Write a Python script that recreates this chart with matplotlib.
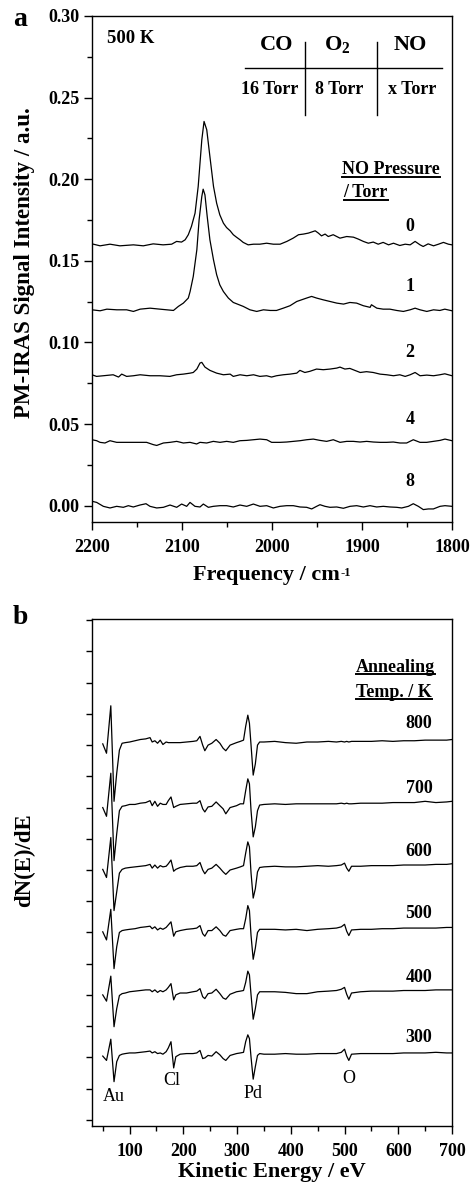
import numpy as np
import matplotlib
matplotlib.use("Agg")
import matplotlib.pyplot as plt
from matplotlib.lines import Line2D
from matplotlib.ticker import MultipleLocator, FormatStrFormatter

plt.rcParams['font.family'] = ['Liberation Serif', 'DejaVu Serif']
plt.rcParams['font.weight'] = 'bold'
plt.rcParams['mathtext.fontset'] = 'custom'
plt.rcParams['mathtext.rm'] = 'Liberation Serif:bold'
plt.rcParams['mathtext.bf'] = 'Liberation Serif:bold'

# ---- panel a: PM-IRAS spectra at 500 K, one per NO pressure ----
f_0torr = [2200, 2191, 2180, 2169, 2154, 2143, 2132, 2121, 2111.5, 2106,
           2100.5, 2096.5, 2093, 2089.5, 2085.5, 2082, 2078, 2075.5, 2072.5, 2069,
           2065, 2061.5, 2058, 2054, 2050.5, 2046.5, 2043, 2039.5, 2035.5, 2032,
           2026.5, 2020.5, 2013.5, 2006, 1998.5, 1991, 1983.5, 1976.5, 1970.5, 1965,
           1959.5, 1952, 1948.5, 1945, 1941, 1937.5, 1932, 1924.5, 1917, 1909.5,
           1904, 1898.5, 1893, 1887.5, 1882, 1876.5, 1870.5, 1865, 1858, 1852,
           1846.5, 1841, 1835.5, 1832, 1826.5, 1820.5, 1815, 1809.5, 1804, 1800]
i_0torr = [0.1604, 0.1592, 0.1602, 0.1592, 0.1598, 0.1592, 0.1604, 0.1598, 0.1602, 0.1619,
           0.1615, 0.1629, 0.1660, 0.1711, 0.1792, 0.1956, 0.2241, 0.2354, 0.2303, 0.2139,
           0.1956, 0.1853, 0.1782, 0.1731, 0.1704, 0.1684, 0.1660, 0.1645, 0.1629, 0.1613,
           0.1598, 0.1602, 0.1602, 0.1608, 0.1602, 0.1602, 0.1619, 0.1639, 0.1660, 0.1664,
           0.1670, 0.1684, 0.1670, 0.1653, 0.1664, 0.1649, 0.1660, 0.1639, 0.1649, 0.1645,
           0.1633, 0.1619, 0.1608, 0.1615, 0.1602, 0.1613, 0.1598, 0.1608, 0.1594, 0.1602,
           0.1598, 0.1619, 0.1598, 0.1588, 0.1604, 0.1592, 0.1602, 0.1613, 0.1602, 0.1598]

f_1torr = [2200, 2191, 2183.5, 2172.5, 2161.5, 2154, 2146.5, 2135.5, 2124.5, 2117,
           2109.5, 2104, 2098.5, 2093, 2091, 2087.5, 2083.5, 2081, 2078, 2076.5,
           2074.5, 2072, 2069, 2065, 2061.5, 2058, 2054, 2048.5, 2043, 2032,
           2024.5, 2017, 2009.5, 2002, 1995, 1987.5, 1980, 1972.5, 1961.5, 1956,
           1950.5, 1943, 1935.5, 1928, 1920.5, 1913.5, 1906, 1898.5, 1891, 1889.5,
           1883.5, 1876.5, 1869, 1861.5, 1854, 1846.5, 1841, 1835.5, 1828, 1820.5,
           1813.5, 1808, 1800]
i_1torr = [0.1200, 0.1194, 0.1204, 0.1200, 0.1200, 0.1190, 0.1204, 0.1210, 0.1204, 0.1200,
           0.1196, 0.1221, 0.1241, 0.1272, 0.1312, 0.1404, 0.1568, 0.1751, 0.1894, 0.1939,
           0.1904, 0.1772, 0.1629, 0.1506, 0.1415, 0.1353, 0.1312, 0.1272, 0.1245, 0.1221,
           0.1200, 0.1190, 0.1200, 0.1196, 0.1196, 0.1210, 0.1225, 0.1251, 0.1272, 0.1282,
           0.1272, 0.1261, 0.1251, 0.1241, 0.1235, 0.1245, 0.1241, 0.1225, 0.1215, 0.1231,
           0.1210, 0.1204, 0.1204, 0.1196, 0.1190, 0.1200, 0.1210, 0.1200, 0.1190, 0.1200,
           0.1196, 0.1204, 0.1194]

f_2torr = [2200, 2195, 2187.5, 2176.5, 2170.5, 2167, 2161.5, 2154, 2146.5, 2135.5,
           2124.5, 2113.5, 2106, 2098.5, 2091, 2087.5, 2083.5, 2080, 2078, 2074.5,
           2069, 2061.5, 2054, 2046.5, 2043, 2035.5, 2028, 2020.5, 2013.5, 2006,
           2000.5, 1995, 1987.5, 1980, 1972.5, 1969, 1963.5, 1958, 1950.5, 1943,
           1935.5, 1928, 1924.5, 1919, 1913.5, 1908, 1902, 1895, 1887.5, 1880,
           1872.5, 1865, 1858, 1852, 1846.5, 1841, 1835.5, 1828, 1820.5, 1813.5,
           1808, 1800]
i_2torr = [0.0802, 0.0792, 0.0796, 0.0802, 0.0788, 0.0806, 0.0792, 0.0796, 0.0802, 0.0796,
           0.0796, 0.0792, 0.0802, 0.0806, 0.0812, 0.0816, 0.0837, 0.0874, 0.0878, 0.0849,
           0.0829, 0.0812, 0.0802, 0.0806, 0.0792, 0.0802, 0.0796, 0.0802, 0.0792, 0.0796,
           0.0788, 0.0796, 0.0802, 0.0806, 0.0812, 0.0829, 0.0816, 0.0823, 0.0837, 0.0833,
           0.0837, 0.0843, 0.0849, 0.0837, 0.0841, 0.0829, 0.0816, 0.0821, 0.0816, 0.0806,
           0.0802, 0.0796, 0.0802, 0.0792, 0.0802, 0.0816, 0.0796, 0.0800, 0.0796, 0.0802,
           0.0808, 0.0796]

f_4torr = [2200, 2194.8, 2191.1, 2185.6, 2180, 2172.6, 2161.5, 2150.4, 2139.3, 2131.9,
           2128.1, 2120.7, 2113.3, 2105.9, 2098.5, 2091.1, 2083.7, 2080, 2072.6, 2065.2,
           2057.8, 2050.4, 2043, 2035.6, 2028.1, 2020.7, 2013.3, 2005.9, 2000.4, 1991.1,
           1983.7, 1976.3, 1968.9, 1961.5, 1954.1, 1946.7, 1939.3, 1931.9, 1924.4, 1917,
           1909.6, 1902.2, 1894.8, 1887.4, 1880, 1872.6, 1865.2, 1857.8, 1850.4, 1843,
           1835.6, 1828.1, 1820.7, 1813.3, 1807.8, 1800]
i_4torr = [0.0404, 0.0398, 0.0388, 0.0384, 0.0398, 0.0388, 0.0388, 0.0388, 0.0388, 0.0374,
           0.0369, 0.0384, 0.0388, 0.0394, 0.0384, 0.0388, 0.0378, 0.0388, 0.0384, 0.0394,
           0.0388, 0.0394, 0.0388, 0.0398, 0.0400, 0.0404, 0.0408, 0.0404, 0.0388, 0.0388,
           0.0390, 0.0394, 0.0398, 0.0404, 0.0408, 0.0400, 0.0394, 0.0404, 0.0388, 0.0394,
           0.0394, 0.0390, 0.0394, 0.0390, 0.0388, 0.0388, 0.0390, 0.0384, 0.0384, 0.0404,
           0.0388, 0.0388, 0.0394, 0.0400, 0.0408, 0.0398]

f_8torr = [2200, 2194.8, 2187.4, 2180, 2172.6, 2165.2, 2159.6, 2154.1, 2146.7, 2140,
           2135.6, 2128.1, 2120.7, 2113.3, 2105.9, 2100.4, 2094.8, 2091.1, 2085.6, 2080,
           2076.3, 2070.7, 2065.2, 2057.8, 2050.4, 2043, 2035.6, 2028.1, 2020.7, 2013.3,
           2005.9, 1998.5, 1991.1, 1983.7, 1976.3, 1968.9, 1961.5, 1955.9, 1950.4, 1946.7,
           1941.1, 1935.6, 1928.1, 1920.7, 1913.3, 1905.9, 1898.5, 1891.1, 1883.7, 1876.3,
           1868.9, 1861.5, 1855.9, 1848.5, 1843, 1837.4, 1831.9, 1826.3, 1820.7, 1813.3,
           1807.8, 1800]
i_8torr = [0.0027, 0.0020, -0.0004, -0.0014, -0.0004, -0.0010, 0.0, -0.0008, 0.0004, 0.0012,
           -0.0004, -0.0014, -0.0010, 0.0004, -0.0010, 0.0010, -0.0004, 0.0020, -0.0004, -0.0008,
           0.0010, -0.0010, -0.0004, 0.0, 0.0, -0.0008, 0.0004, -0.0004, 0.0010, -0.0004,
           0.0, -0.0014, -0.0004, 0.0, 0.0, -0.0008, -0.0010, -0.0020, -0.0004, 0.0006,
           -0.0004, -0.0010, -0.0008, -0.0016, -0.0004, 0.0, -0.0008, 0.0, -0.0008, -0.0004,
           -0.0008, -0.0010, -0.0014, -0.0004, 0.0012, -0.0004, -0.0024, -0.0020, -0.0020, -0.0004,
           0.0, -0.0004]

no_pressure = ['0', '1', '2', '4', '8']
no_label_y = [0.1708, 0.1341, 0.0937, 0.0527, 0.0147]

# ---- panel b: AES spectra after annealing ----
energy = [50, 57, 65, 71, 76, 81, 86, 92, 100, 110,
          120, 130, 138, 142, 147, 152, 157, 162, 168, 172,
          177, 182, 186, 194, 206, 218, 225, 231, 236, 240,
          246, 253, 261, 268, 274, 279, 287, 299, 306, 312,
          316, 320, 323, 326, 330, 334, 338, 342,
          350, 370, 390, 410, 430, 450, 470, 485, 494, 500,
          504, 508, 513, 530, 550, 570, 590, 610, 630, 650,
          670, 690, 700]

aes_800 = [-0.03, -0.18, 0.58, -0.95, -0.50, -0.13, -0.02, -0.01, 0.0, 0.02,
           0.04, 0.05, 0.07, 0.0, 0.02, -0.02, 0.03, -0.04, 0.0, -0.01,
           -0.01, -0.01, -0.01, -0.01, 0.0, 0.01, 0.02, 0.09, -0.05, -0.14,
           -0.05, -0.02, 0.04, -0.02, -0.10, -0.14, -0.05, -0.01, 0.01, 0.03,
           0.25, 0.43, 0.30, -0.05, -0.53, -0.35, -0.05, 0.0,
           0.0, 0.01, -0.01, -0.02, 0.0, 0.0, 0.01, 0.0, 0.01, 0.0,
           0.01, 0.0, 0.01, 0.01, 0.01, 0.02, 0.01, 0.02, 0.02, 0.03,
           0.03, 0.03, 0.04]
aes_700 = [-0.05, -0.19, 0.50, -0.90, -0.47, -0.10, -0.03, -0.02, 0.0, 0.0,
           0.02, 0.03, 0.06, -0.02, 0.05, -0.03, 0.02, 0.0, 0.0, 0.06,
           0.12, -0.05, -0.03, 0.0, 0.01, 0.02, 0.02, 0.06, -0.07, -0.12,
           -0.04, -0.03, 0.04, -0.02, -0.07, -0.15, -0.05, -0.02, 0.01, 0.01,
           0.22, 0.41, 0.33, -0.10, -0.52, -0.36, -0.10, -0.01,
           0.0, 0.01, 0.0, 0.01, 0.01, 0.01, 0.01, 0.01, 0.02, 0.01,
           0.02, 0.01, 0.01, 0.02, 0.02, 0.02, 0.03, 0.03, 0.03, 0.05,
           0.03, 0.04, 0.05]
aes_600 = [-0.04, -0.17, 0.47, -0.70, -0.40, -0.10, -0.04, -0.02, -0.01, 0.0,
           0.01, 0.02, 0.04, -0.02, 0.03, -0.02, 0.02, 0.0, 0.01, 0.05,
           0.11, -0.07, -0.04, -0.01, 0.01, 0.01, 0.02, 0.07, -0.05, -0.11,
           -0.04, -0.02, 0.04, -0.02, -0.08, -0.12, -0.05, -0.02, 0.0, 0.02,
           0.22, 0.40, 0.32, -0.10, -0.50, -0.35, -0.08, -0.01,
           0.0, 0.01, 0.0, 0.0, 0.01, 0.02, 0.01, 0.02, 0.03, 0.06,
           -0.02, -0.07, 0.01, 0.01, 0.02, 0.02, 0.02, 0.03, 0.03, 0.03,
           0.04, 0.04, 0.05]
aes_500 = [-0.04, -0.17, 0.32, -0.63, -0.28, -0.05, -0.02, -0.01, 0.0, 0.01,
           0.03, 0.04, 0.05, 0.01, 0.04, -0.01, 0.02, 0.0, 0.03, 0.07,
           0.12, -0.11, -0.04, -0.02, 0.0, 0.01, 0.02, 0.06, -0.07, -0.11,
           -0.02, -0.02, 0.04, -0.02, -0.09, -0.11, -0.02, 0.0, 0.01, 0.01,
           0.17, 0.38, 0.30, -0.10, -0.48, -0.30, -0.05, 0.0,
           0.0, 0.0, -0.01, 0.0, -0.02, 0.0, 0.01, 0.02, 0.04, 0.08,
           -0.03, -0.10, -0.01, 0.0, 0.0, 0.01, 0.01, 0.02, 0.02, 0.02,
           0.02, 0.03, 0.03]
aes_400 = [-0.05, -0.15, 0.25, -0.56, -0.27, -0.06, -0.03, -0.02, 0.0, 0.01,
           0.02, 0.03, 0.03, 0.0, 0.03, -0.01, 0.02, 0.0, 0.03, 0.07,
           0.13, -0.13, -0.05, -0.02, -0.02, 0.0, 0.01, 0.05, -0.08, -0.11,
           -0.03, -0.02, 0.04, -0.03, -0.10, -0.12, -0.04, 0.0, 0.01, 0.02,
           0.15, 0.33, 0.27, -0.05, -0.44, -0.27, -0.05, 0.0,
           0.0, 0.0, -0.01, -0.03, -0.03, 0.0, 0.01, 0.02, 0.04, 0.07,
           -0.04, -0.12, -0.02, 0.0, 0.01, 0.01, 0.01, 0.02, 0.02, 0.02,
           0.03, 0.03, 0.03]
aes_300 = [-0.03, -0.10, 0.24, -0.44, -0.12, -0.02, 0.0, 0.01, 0.02, 0.02,
           0.03, 0.04, 0.05, 0.02, 0.04, 0.01, 0.02, 0.0, 0.04, 0.10,
           0.20, -0.22, -0.04, 0.0, 0.01, 0.01, 0.02, 0.06, -0.07, -0.06,
           -0.02, -0.03, 0.04, -0.01, -0.07, -0.10, -0.02, 0.01, 0.02, 0.03,
           0.20, 0.31, 0.25, -0.05, -0.40, -0.20, -0.02, 0.01,
           0.0, 0.0, 0.01, 0.0, 0.0, 0.01, 0.01, 0.01, 0.03, 0.08,
           -0.03, -0.10, 0.0, 0.01, 0.01, 0.01, 0.01, 0.02, 0.02, 0.02,
           0.03, 0.02, 0.02]

anneal_temps = ['300', '400', '500', '600', '700', '800']
peak_names = ['Au', 'Cl', 'Pd', 'O']
peak_pos = [(71, -0.62), (179, -0.37), (330, -0.58), (508, -0.34)]

fig = plt.figure(figsize=(4.72, 11.84), dpi=100)
axa = fig.add_axes([92 / 472, 1 - 522 / 1184, 360 / 472, 506 / 1184])
axb = fig.add_axes([92 / 472, 1 - 1126 / 1184, 360 / 472, 507 / 1184])

for f, i in [(f_0torr, i_0torr), (f_1torr, i_1torr), (f_2torr, i_2torr),
             (f_4torr, i_4torr), (f_8torr, i_8torr)]:
    axa.plot(f, i, color='k', lw=0.9)

axa.set_xlim(2200, 1800)
axa.set_ylim(-0.01, 0.30)
axa.xaxis.set_major_locator(MultipleLocator(100))
axa.xaxis.set_minor_locator(MultipleLocator(50))
axa.yaxis.set_major_locator(MultipleLocator(0.05))
axa.yaxis.set_minor_locator(MultipleLocator(0.025))
axa.yaxis.set_major_formatter(FormatStrFormatter('%.2f'))

for lab, y in zip(no_pressure, no_label_y):
    axa.text(1846.7, y, lab, ha='center', va='center', fontsize=13)

axa.text(2183, 0.2863, '500 K', ha='left', va='center', fontsize=13.5)
axa.text(1994.4, 0.2823, 'CO', ha='center', va='center', fontsize=16)
axa.text(1927.8, 0.2823, r'O$_\mathbf{2}$', ha='center', va='center', fontsize=16)
axa.text(1846.7, 0.2823, 'NO', ha='center', va='center', fontsize=16)
axa.text(2002.2, 0.2547, '16 Torr', ha='center', va='center', fontsize=13)
axa.text(1925.6, 0.2547, '8 Torr', ha='center', va='center', fontsize=13)
axa.text(1844.4, 0.2547, 'x Torr', ha='center', va='center', fontsize=13)
axa.plot([2030, 1811], [0.2682, 0.2682], color='k', lw=1.0)
axa.plot([1963.3, 1963.3], [0.2841, 0.2394], color='k', lw=1.0)
axa.plot([1883.3, 1883.3], [0.2841, 0.2394], color='k', lw=1.0)
t1 = axa.text(1922.2, 0.2058, 'NO Pressure', ha='left', va='center', fontsize=13)
t2 = axa.text(1920.5, 0.1917, '/ Torr', ha='left', va='center', fontsize=13)

# panel b
offsets = [0.05, 1.05, 2.05, 3.05, 4.05, 5.05]
label_y = [0.32, 1.28, 2.31, 3.30, 4.30, 5.35]
for off, vals in zip(offsets, [aes_300, aes_400, aes_500, aes_600, aes_700, aes_800]):
    axb.plot(energy, np.array(vals) + off, color='k', lw=0.9)
for lab, y in zip(anneal_temps, label_y):
    axb.text(638.6, y, lab, ha='center', va='center', fontsize=13)
for name, (x, y) in zip(peak_names, peak_pos):
    axb.text(x, y, name, ha='center', va='center', fontsize=13, fontweight='normal')
t3 = axb.text(521, 6.25, 'Annealing', ha='left', va='center', fontsize=13)
t4 = axb.text(521, 5.85, 'Temp. / K', ha='left', va='center', fontsize=13)

axb.set_xlim(30, 700)
axb.set_ylim(-1.1, 7.02)
axb.xaxis.set_major_locator(MultipleLocator(100))
axb.xaxis.set_minor_locator(MultipleLocator(50))
axb.set_yticks(np.arange(-1, 7.01, 0.5))
axb.set_yticklabels([])

for ax in (axa, axb):
    for s in ax.spines.values():
        s.set_linewidth(1.0)
    ax.tick_params(which='major', direction='out', length=6, width=1.0,
                   labelsize=13, pad=3)
    ax.tick_params(which='minor', direction='out', length=3.5, width=1.0)
    ax.tick_params(axis='x', which='major', pad=6)
axb.tick_params(axis='y', which='major', length=4)

fig.text(25 / 472, 1 - 263 / 1184, 'PM-IRAS Signal Intensity / a.u.', rotation=90,
         ha='center', va='center', fontsize=16.5)
xl = fig.text(266 / 472, 1 - 575 / 1184, 'Frequency / cm', ha='center',
              va='center', fontsize=16)
fig.text(25 / 472, 1 - 860 / 1184, 'dN(E)/dE', rotation=90, ha='center',
         va='center', fontsize=16.5)
fig.text(272 / 472, 1 - 1172 / 1184, 'Kinetic Energy / eV', ha='center',
         va='center', fontsize=16)
fig.text(20 / 472, 1 - 20 / 1184, 'a', ha='center', va='center', fontsize=20)
fig.text(20 / 472, 1 - 617 / 1184, 'b', ha='center', va='center', fontsize=20)

fig.canvas.draw()
bx = xl.get_window_extent().transformed(fig.transFigure.inverted())
fig.text(bx.x1 + 0.002, bx.y1 - 0.002, '-1', ha='left', va='top', fontsize=9)

for t in (t1, t2, t3, t4):
    bb = t.get_window_extent().transformed(fig.transFigure.inverted())
    fig.add_artist(Line2D([bb.x0, bb.x1], [bb.y0 + 0.001, bb.y0 + 0.001],
                          transform=fig.transFigure, color='k', lw=1.4))

fig.savefig('out.png', dpi=100)
